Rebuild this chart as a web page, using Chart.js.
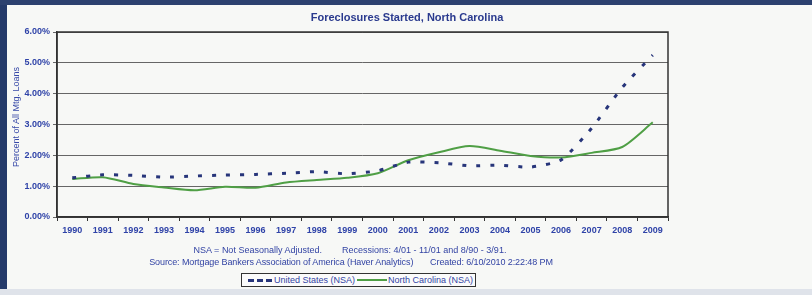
<!DOCTYPE html>
<html>
<head>
<meta charset="utf-8">
<script src="https://cdn.jsdelivr.net/npm/chart.js@4"></script>
<style>
  html, body { margin: 0; padding: 0; }
  body { width: 812px; height: 295px; overflow: hidden; background: #f7f8f6; position: relative; font-family: "Liberation Sans Narrow", "Liberation Sans", Arial, sans-serif; }
  .frame-left { position: absolute; left: 0; top: 0; width: 7px; height: 295px; background: #243a6a; }
  .frame-top { position: absolute; left: 0; top: 0; width: 812px; height: 5px; background: #2c416f; }
  .bottom-band { position: absolute; left: 0; top: 289px; width: 812px; height: 6px; background: #dfe3ea; }
  #wrap { position: absolute; left: 0; top: 0; width: 812px; height: 295px; }
  .title { position: absolute; left: 407px; top: 11px; transform: translateX(-50%); font-weight: bold; font-size: 11px; color: #2a3a8e; white-space: nowrap; }
  .ytitle { position: absolute; left: 16px; top: 117px; transform: translate(-50%, -50%) rotate(-90deg); font-size: 9px; color: #3748a8; white-space: nowrap; }
  .note { position: absolute; transform: translateX(-50%); font-size: 9px; color: #3344a4; white-space: pre; }
  .legend { position: absolute; left: 241px; top: 273px; width: 235px; height: 14px; border: 1px solid #333; background: #fbfbfb; font-size: 9px; color: #3344a4; display: flex; align-items: center; padding-left: 6px; box-sizing: border-box; white-space: nowrap; }
  .legend .sw { display: inline-block; width: 30px; height: 0; margin-right: 1px; }
</style>
</head>
<body>
<div id="wrap"><canvas id="lineChart" width="812" height="295"></canvas></div>
<div class="frame-left"></div>
<div class="frame-top"></div>
<div class="bottom-band"></div>
<div class="title" id="title"></div>
<div class="ytitle" id="ytitle"></div>
<div class="note" id="note1" style="left:350px; top:245px;"></div>
<div class="note" id="note2" style="left:351px; top:257px; letter-spacing:-0.1px;"></div>
<div class="legend" id="legend"></div>
<script>
// data (percent of all mortgage loans)
const years = ['1990','1991','1992','1993','1994','1995','1996','1997','1998','1999',
               '2000','2001','2002','2003','2004','2005','2006','2007','2008','2009'];
const usValues = [1.27,1.37,1.35,1.29,1.33,1.36,1.38,1.42,1.47,1.40,
                  1.50,1.78,1.76,1.66,1.68,1.62,1.85,2.88,4.20,5.25];
const ncValues = [1.23,1.29,1.07,0.96,0.87,0.98,0.95,1.12,1.20,1.27,
                  1.42,1.84,2.10,2.30,2.15,1.98,1.93,2.08,2.27,3.07];
const yTicks = [0,1,2,3,4,5,6];
const seriesNames = ['United States (NSA)', 'North Carolina (NSA)'];

document.getElementById('title').textContent = 'Foreclosures Started, North Carolina';
document.getElementById('ytitle').textContent = 'Percent of All Mtg. Loans';
document.getElementById('note1').textContent = 'NSA = Not Seasonally Adjusted.        Recessions: 4/01 - 11/01 and 8/90 - 3/91.';
document.getElementById('note2').textContent = 'Source: Mortgage Bankers Association of America (Haver Analytics)       Created: 6/10/2010 2:22:48 PM';
document.getElementById('legend').innerHTML =
  `<span class="sw" style="border-top:3px dashed #27357a; width:24px; margin-right:2px;"></span>${seriesNames[0]}` +
  `<span class="sw" style="border-top:2px solid #4f9f45; margin-left:2px;"></span>${seriesNames[1]}`;

// box around the plot area
const plotBorder = {
  id: 'plotBorder',
  afterDraw(chart) {
    const a = chart.chartArea, c = chart.ctx;
    c.save();
    c.strokeStyle = '#333';
    c.lineWidth = 1.5;
    c.strokeRect(a.left, a.top, a.right - a.left, a.bottom - a.top);
    c.restore();
  }
};

const tickFont = { family: '"Liberation Sans Narrow", "Liberation Sans", Arial, sans-serif', size: 9, weight: 'bold' };

const ctx = document.getElementById('lineChart');
new Chart(ctx, {
  type: 'line',
  data: {
    labels: years,
    datasets: [
      { label: seriesNames[0], data: usValues, borderColor: '#27357a', borderWidth: 3, borderDash: [4, 10], pointRadius: 0, tension: 0.2, fill: false },
      { label: seriesNames[1], data: ncValues, borderColor: '#4f9f45', borderWidth: 2, pointRadius: 0, tension: 0.25, fill: false }
    ]
  },
  options: {
    responsive: false,
    animation: false,
    layout: { padding: { left: 0, right: 144, top: 32, bottom: 58 } },
    plugins: { legend: { display: false }, title: { display: false }, tooltip: { enabled: false } },
    scales: {
      x: {
        offset: true,
        grid: { offset: true, drawOnChartArea: false, color: '#333', tickLength: 4 },
        border: { color: '#333', width: 1.5 },
        ticks: { color: '#2f43a8', font: tickFont, padding: 4, maxRotation: 0, autoSkip: false },
        afterFit(s) { s.height = 20; }
      },
      y: {
        min: 0, max: 6,
        afterBuildTicks(s) { s.ticks = yTicks.map(v => ({ value: v })); },
        grid: { color: '#666', lineWidth: 1, tickLength: 4 },
        border: { color: '#333', width: 1.5 },
        ticks: { color: '#2f43a8', font: tickFont, padding: 3, callback: v => v.toFixed(2) + '%' },
        afterFit(s) { s.width = 57; }
      }
    }
  },
  plugins: [plotBorder]
});
</script>
</body>
</html>
